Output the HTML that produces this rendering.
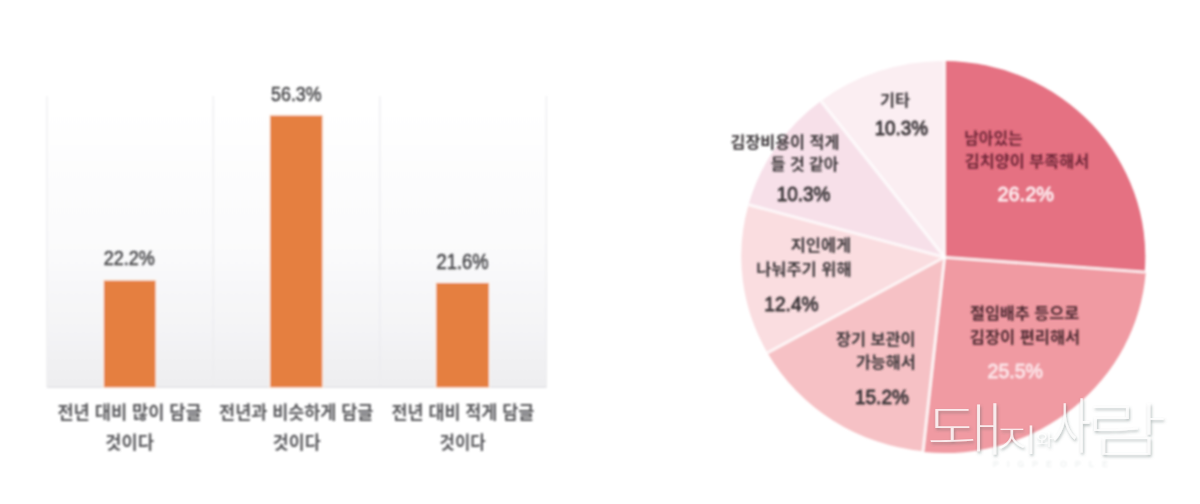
<!DOCTYPE html>
<html lang="ko">
<head>
<meta charset="utf-8">
<title>김장 의향 조사</title>
<style>
html,body{margin:0;padding:0;background:#fff;}
body{width:1200px;height:504px;overflow:hidden;font-family:"Liberation Sans","Noto Sans CJK KR","NanumGothic",sans-serif;}
svg{display:block;}
text.k{font-family:"Liberation Sans","Noto Sans CJK KR","NanumGothic",sans-serif;}
text.n{font-family:"Liberation Sans","Noto Sans CJK KR",sans-serif;}
text.w{font-family:"Liberation Sans","Noto Sans CJK KR","NanumGothic",sans-serif;}
</style>
</head>
<body>
<svg width="1200" height="504" viewBox="0 0 1200 504" role="img" aria-label="김장 의향 조사 그래프">
<defs>
<linearGradient id="plot" x1="0" y1="0" x2="0" y2="1">
<stop offset="0" stop-color="#ffffff"/>
<stop offset="0.5" stop-color="#fbfbfc"/>
<stop offset="0.8" stop-color="#f4f4f6"/>
<stop offset="1" stop-color="#eeeef0"/>
</linearGradient>
<filter id="soft" x="-5%" y="-5%" width="110%" height="110%"><feGaussianBlur stdDeviation="0.8"/></filter>
<filter id="soft2" x="-5%" y="-5%" width="110%" height="110%"><feGaussianBlur stdDeviation="0.85"/></filter>
<filter id="wm" x="-10%" y="-20%" width="120%" height="150%">
<feGaussianBlur in="SourceAlpha" stdDeviation="1.8" result="b"/>
<feOffset in="b" dx="0.6" dy="1.6" result="o"/>
<feFlood flood-color="#4f6462" flood-opacity="0.55"/>
<feComposite in2="o" operator="in" result="sh"/>
<feGaussianBlur in="SourceGraphic" stdDeviation="0.7" result="g"/>
<feMerge><feMergeNode in="sh"/><feMergeNode in="g"/></feMerge>
</filter>
</defs>
<rect width="1200" height="504" fill="#ffffff"/>
<g filter="url(#soft)">
<rect x="47" y="96" width="499.5" height="291.2" fill="url(#plot)"/>
<g stroke="#ececef" stroke-width="1.2">
<line x1="47" y1="96" x2="47" y2="387"/>
<line x1="213.3" y1="96" x2="213.3" y2="387"/>
<line x1="379.8" y1="96" x2="379.8" y2="387"/>
<line x1="546.3" y1="96" x2="546.3" y2="387"/>
</g>
<line x1="47" y1="387.2" x2="546.5" y2="387.2" stroke="#e2e2e5" stroke-width="1.4"/>
<g fill="#E57F3F" stroke="#FFF4EA" stroke-opacity="0.85" stroke-width="2.2" paint-order="stroke">
<rect x="103.9" y="280.6" width="51.6" height="106.7"/>
<rect x="270.2" y="115.6" width="52.1" height="271.7"/>
<rect x="436.3" y="283" width="52.5" height="104.3"/>
</g>
</g>
<g filter="url(#soft)">
<path d="M944.5 257.3 L944.5 61.0 A202.0 195.6 0 0 1 1144.7 271.9 Z" fill="#E57182"/>
<path d="M944.5 257.3 L1144.7 271.9 A202.0 195.6 0 0 1 923.0 451.2 Z" fill="#F09AA2" transform="translate(1 0.9)"/>
<path d="M944.5 257.3 L923.0 451.2 A202.0 195.6 0 0 1 767.5 352.9 Z" fill="#F6C1C5"/>
<path d="M944.5 257.3 L767.5 352.9 A202.0 195.6 0 0 1 748.5 204.7 Z" fill="#FADDE0"/>
<path d="M944.5 257.3 L748.5 204.7 A202.0 195.6 0 0 1 820.9 101.0 Z" fill="#F7E0E9"/>
<path d="M944.5 257.3 L820.9 101.0 A202.0 195.6 0 0 1 944.5 61.0 Z" fill="#FBEEF2"/>
<g stroke="#ffffff" stroke-opacity="0.72" stroke-width="3" stroke-linecap="butt">
<line x1="944.5" y1="257.3" x2="944.5" y2="61.0"/>
<line x1="944.5" y1="257.3" x2="1144.7" y2="271.9"/>
<line x1="944.5" y1="257.3" x2="923.0" y2="451.2"/>
<line x1="944.5" y1="257.3" x2="767.5" y2="352.9"/>
<line x1="944.5" y1="257.3" x2="748.5" y2="204.7"/>
<line x1="944.5" y1="257.3" x2="820.9" y2="101.0"/>
</g>
</g>
<g filter="url(#soft2)">
<text class="n" transform="translate(103.68 265.18) scale(1 1.169)" font-size="18.05" font-weight="400" fill="#444447" stroke="#444447" stroke-width="0.45" stroke-linejoin="round">22.2%</text>
<text class="n" transform="translate(271.06 101.18) scale(1 1.182)" font-size="17.84" font-weight="400" fill="#444447" stroke="#444447" stroke-width="0.45" stroke-linejoin="round">56.3%</text>
<text class="n" transform="translate(436.56 268.57) scale(1 1.178)" font-size="18.38" font-weight="400" fill="#444447" stroke="#444447" stroke-width="0.46" stroke-linejoin="round">21.6%</text>
<text class="k" transform="translate(57.39 419.44) scale(1 1.049)" font-size="17.63" font-weight="700" fill="#5a5a5d">전년 대비 많이 담글</text>
<text class="k" transform="translate(105.34 448.55) scale(1 1.044)" font-size="17.61" font-weight="700" fill="#5a5a5d">것이다</text>
<text class="k" transform="translate(219.10 419.44) scale(1 1.058)" font-size="17.47" font-weight="700" fill="#5a5a5d">전년과 비슷하게 담글</text>
<text class="k" transform="translate(272.86 448.55) scale(1 1.064)" font-size="17.28" font-weight="700" fill="#5a5a5d">것이다</text>
<text class="k" transform="translate(391.60 419.44) scale(1 1.062)" font-size="17.42" font-weight="700" fill="#5a5a5d">전년 대비 적게 담글</text>
<text class="k" transform="translate(439.60 448.55) scale(1 1.105)" font-size="16.64" font-weight="700" fill="#5a5a5d">것이다</text>
<text class="k" transform="translate(880.09 105.94) scale(1 0.998)" font-size="16.27" font-weight="700" fill="#3c373a">기타</text>
<text class="n" transform="translate(874.66 135.31) scale(1 1.049)" font-size="18.81" font-weight="400" fill="#3c373a" stroke="#3c373a" stroke-width="0.85" stroke-linejoin="round">10.3%</text>
<text class="k" transform="translate(730.59 147.63) scale(1 1.009)" font-size="16.19" font-weight="700" fill="#3c373a">김장비용이 적게</text>
<text class="k" transform="translate(770.76 170.00) scale(1 0.975)" font-size="16.00" font-weight="700" fill="#3c373a">들 것 같아</text>
<text class="n" transform="translate(776.65 201.30) scale(1 1.053)" font-size="18.99" font-weight="400" fill="#3c373a" stroke="#3c373a" stroke-width="0.85" stroke-linejoin="round">10.3%</text>
<text class="k" transform="translate(790.74 251.29) scale(1 0.957)" font-size="16.40" font-weight="700" fill="#3c373a">지인에게</text>
<text class="k" transform="translate(756.15 274.95) scale(1 0.979)" font-size="16.47" font-weight="700" fill="#3c373a">나눠주기 위해</text>
<text class="n" transform="translate(764.34 310.82) scale(1 1.010)" font-size="19.13" font-weight="400" fill="#3c373a" stroke="#3c373a" stroke-width="0.86" stroke-linejoin="round">12.4%</text>
<text class="k" transform="translate(835.91 344.68) scale(1 0.970)" font-size="16.29" font-weight="700" fill="#3c373a">장기 보관이</text>
<text class="k" transform="translate(855.91 367.94) scale(1 0.999)" font-size="16.25" font-weight="700" fill="#3c373a">가능해서</text>
<text class="n" transform="translate(854.95 403.82) scale(1 1.023)" font-size="19.03" font-weight="400" fill="#3c373a" stroke="#3c373a" stroke-width="0.86" stroke-linejoin="round">15.2%</text>
<text class="k" transform="translate(964.33 143.82) scale(1 0.972)" font-size="15.81" font-weight="700" fill="#6e2638">남아있는</text>
<text class="k" transform="translate(964.78 167.18) scale(1 0.970)" font-size="16.30" font-weight="700" fill="#6e2638">김치양이 부족해서</text>
<text class="n" transform="translate(997.50 200.80) scale(1 1.005)" font-size="19.89" font-weight="400" fill="#FDEBEE" stroke="#FDEBEE" stroke-width="0.90" stroke-linejoin="round">26.2%</text>
<text class="k" transform="translate(969.95 319.27) scale(1 0.978)" font-size="16.27" font-weight="700" fill="#4e2a32">절임배추 등으로</text>
<text class="k" transform="translate(969.78 342.63) scale(1 0.994)" font-size="16.44" font-weight="700" fill="#4e2a32">김장이 편리해서</text>
<text class="n" transform="translate(987.51 378.01) scale(1 1.002)" font-size="19.57" font-weight="400" fill="#FCE4E8" stroke="#FCE4E8" stroke-width="0.88" stroke-linejoin="round">25.5%</text>
</g>
<g filter="url(#wm)" fill-opacity="0.8">
<text class="w" transform="translate(926.09 450.40) scale(1 0.633)" font-size="90.14" font-weight="100" fill="#ffffff">돼</text><text class="w" transform="translate(996.87 451.29) scale(1 0.661)" font-size="45.56" font-weight="300" fill="#ffffff">지</text><text class="w" transform="translate(1035.65 445.39) scale(1 0.756)" font-size="19.04" font-weight="300" fill="#ffffff">와</text><text class="w" transform="translate(1051.47 448.17) scale(1 1.418)" font-size="42.62" font-weight="300" fill="#ffffff">사</text><text class="w" transform="translate(1084.65 450.94) scale(1 0.645)" font-size="89.49" font-weight="100" fill="#ffffff">람</text>
</g>
<text class="n" x="993" y="466.5" font-size="8.5" font-weight="700" fill="#eef1f1" textLength="115" lengthAdjust="spacing" filter="url(#soft2)">PIGPEOPLE</text>
</svg>
</body>
</html>
